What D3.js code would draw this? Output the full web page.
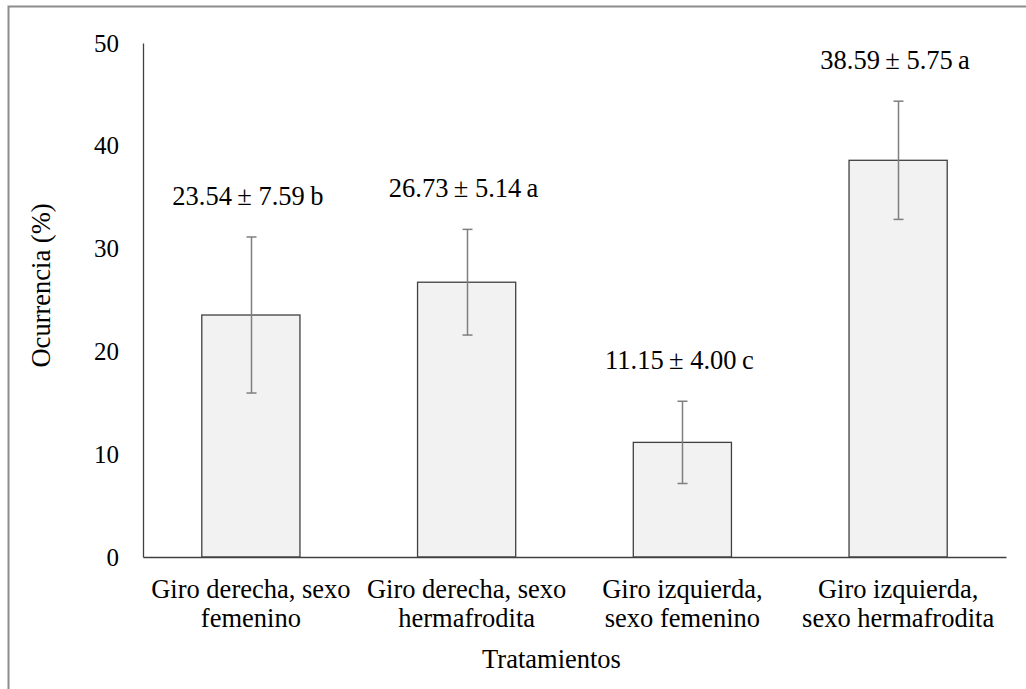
<!DOCTYPE html>
<html>
<head>
<meta charset="utf-8">
<script src="https://cdn.jsdelivr.net/npm/d3@7"></script>
<style>
  html, body { margin: 0; padding: 0; background: #fff; }
  svg { display: block; }
  text { font-family: "Liberation Serif", "Times New Roman", serif; fill: #000; }
</style>
</head>
<body>
<svg id="chart" width="1026" height="689"></svg>
<script>
// ---- data ----
const categories = [
  ["Giro derecha, sexo", "femenino"],
  ["Giro derecha, sexo", "hermafrodita"],
  ["Giro izquierda,", "sexo femenino"],
  ["Giro izquierda,", "sexo hermafrodita"]
];
const means = [23.54, 26.73, 11.15, 38.59];
const sds = [7.59, 5.14, 4.00, 5.75];
const letters = ["b", "a", "c", "a"];
const yTicks = [0, 10, 20, 30, 40, 50];
const yTitle = "Ocurrencia (%)";
const xTitle = "Tratamientos";

// ---- layout ----
const W = 1026, H = 689;
const plot = { left: 143, right: 1006, top: 43, bottom: 557 };
const svg = d3.select("#chart");

// outer frame (only top/left visible in the reference)
svg.append("rect")
  .attr("x", 8.5).attr("y", 6.5)
  .attr("width", W + 20).attr("height", H + 20)
  .attr("fill", "none").attr("stroke", "#8c8c8c").attr("stroke-width", 2);

const idx = d3.range(categories.length);
const x = d3.scaleBand().domain(idx).range([plot.left, plot.right]).paddingInner(0.545).paddingOuter(0.2725);
const y = d3.scaleLinear().domain([0, 50]).range([plot.bottom, plot.top]);

// bars
svg.append("g").selectAll("rect").data(idx).join("rect")
  .attr("x", i => x(i))
  .attr("y", i => y(means[i]))
  .attr("width", x.bandwidth())
  .attr("height", i => y(0) - y(means[i]))
  .attr("fill", "#f2f2f2")
  .attr("stroke", "#404040")
  .attr("stroke-width", 1.3);

// error bars
const eg = svg.append("g").attr("stroke", "#7f7f7f").attr("stroke-width", 1.5).attr("fill", "none");
idx.forEach(i => {
  const cx = Math.round(x(i) + x.bandwidth() / 2) + 0.5;
  const y1 = y(means[i] + sds[i]), y0 = y(means[i] - sds[i]);
  eg.append("line").attr("x1", cx).attr("x2", cx).attr("y1", y1).attr("y2", y0);
  eg.append("line").attr("x1", cx - 5).attr("x2", cx + 5).attr("y1", y1).attr("y2", y1);
  eg.append("line").attr("x1", cx - 5).attr("x2", cx + 5).attr("y1", y0).attr("y2", y0);
});

// value labels
svg.append("g").selectAll("text").data(idx).join("text")
  .attr("x", i => x(i) + x.bandwidth() / 2 - 3)
  .attr("y", i => y(means[i] + sds[i]) - 32)
  .attr("text-anchor", "middle")
  .attr("font-size", 26.5)
  .text(i => `${means[i].toFixed(2)}\u2009± ${sds[i].toFixed(2)}\u2009${letters[i]}`);

// y axis
const yAxis = d3.axisLeft(y).tickValues(yTicks).tickSize(0).tickPadding(24).tickFormat(d3.format("d"));
const gy = svg.append("g").attr("transform", `translate(${plot.left},0)`).call(yAxis);
gy.select(".domain").attr("stroke", "#404040").attr("stroke-width", 1.3);
gy.selectAll(".tick text").attr("font-size", 25).attr("font-family", "Liberation Serif, serif").attr("fill", "#000");

// x axis baseline
const xAxis = d3.axisBottom(x).tickSize(0).tickFormat("");
const gx = svg.append("g").attr("transform", `translate(0,${plot.bottom})`).call(xAxis);
gx.select(".domain").attr("stroke", "#404040").attr("stroke-width", 1.3);

// category labels (two lines)
const cl = svg.append("g");
idx.forEach(i => {
  const t = cl.append("text")
    .attr("x", x(i) + x.bandwidth() / 2)
    .attr("y", 598)
    .attr("text-anchor", "middle")
    .attr("font-size", 26.5);
  categories[i].forEach((line, k) => {
    t.append("tspan").attr("x", x(i) + x.bandwidth() / 2).attr("dy", k === 0 ? 0 : 29).text(line);
  });
});

// axis titles
svg.append("text")
  .attr("x", (plot.left + plot.right) / 2 - 23)
  .attr("y", 668)
  .attr("text-anchor", "middle")
  .attr("font-size", 26.5)
  .text(xTitle);

svg.append("text")
  .attr("transform", `translate(50,${285.5}) rotate(-90)`)
  .attr("text-anchor", "middle")
  .attr("font-size", 26.5)
  .text(yTitle);
</script>
</body>
</html>
